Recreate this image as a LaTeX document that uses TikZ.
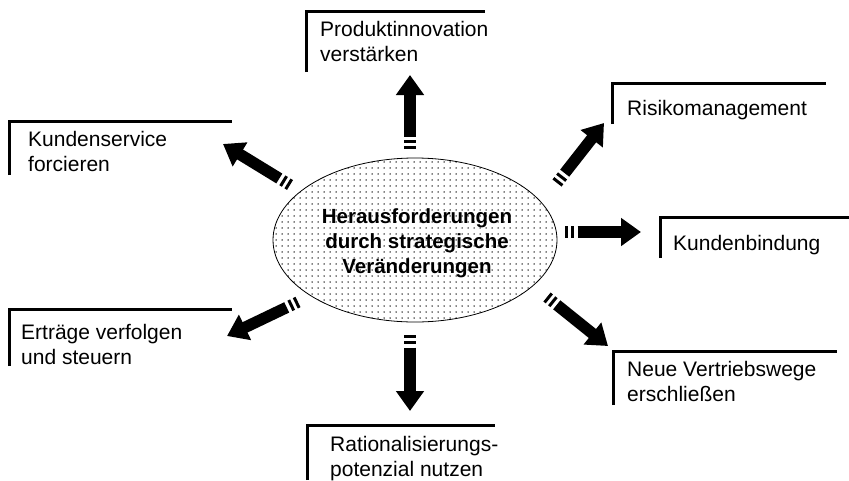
\documentclass[tikz,border=0pt]{standalone}
\usepackage{fontspec}
\setmainfont{Liberation Sans}
\usetikzlibrary{arrows.meta,patterns.meta,shapes.geometric}

\begin{document}
\begin{tikzpicture}[x=1pt,y=-1pt,
  % multi-line nodes sit on the baseline of their last line
  boxtext/.style={anchor=base west, inner sep=0pt, align=left,
    font=\fontsize{21}{24.5}\selectfont},
  frame/.style={line width=3pt},
  bigarrow/.style={line width=11.5pt,
    dash pattern=on 3pt off 3pt on 3pt off 3.5pt on 3000pt,
    -{Triangle[width=27pt,length=20pt]}},
]
\useasboundingbox (0,0) rectangle (849,480);

% central ellipse
\node[ellipse, draw, line width=0.8pt, minimum width=284pt, minimum height=164pt,
  inner sep=0pt, pattern={Dots[distance=6pt,radius=0.75pt]}] (hub) at (415,240) {};
\node[align=center, inner sep=0pt, font=\fontsize{20.5}{25}\selectfont\bfseries]
  (hubtext) at (417,243) {Herausforderungen\\durch strategische\\Veränderungen};

% open frames (left and top edge)
\coordinate (f1a) at (306,72);  \coordinate (f1b) at (485,11);
\coordinate (f2a) at (612,124); \coordinate (f2b) at (826,83);
\coordinate (f3a) at (660,258); \coordinate (f3b) at (849,217);
\coordinate (f4a) at (613,405); \coordinate (f4b) at (837,351);
\coordinate (f5a) at (307,480); \coordinate (f5b) at (495,425);
\coordinate (f6a) at (9,366);   \coordinate (f6b) at (232,309);
\coordinate (f7a) at (9,175);   \coordinate (f7b) at (232,121);
\foreach \f in {1,...,7} \draw[frame] (f\f a) |- (f\f b);

% frame texts
\node[boxtext] (t1) at (320,61)  {Produktinnovation\\verstärken};
\node[boxtext] (t2) at (627,115) {Risikomanagement};
\node[boxtext] (t3) at (673,250) {Kundenbindung};
\node[boxtext] (t4) at (627,401) {Neue Vertriebswege\\erschließen};
\node[boxtext] (t5) at (330,476) {Rationalisierungs-\\potenzial nutzen};
\node[boxtext] (t6) at (21,364)  {Erträge verfolgen\\und steuern};
\node[boxtext] (t7) at (28,171)  {Kundenservice\\forcieren};

% block arrows from the ellipse towards the frames
\coordinate (a1s) at (410,149); \coordinate (a1e) at (410,75);
\coordinate (a2s) at (557,183); \coordinate (a2e) at (604,123);
\coordinate (a3s) at (565,232); \coordinate (a3e) at (641,232);
\coordinate (a4s) at (547,297); \coordinate (a4e) at (608,346);
\coordinate (a5s) at (410,335); \coordinate (a5e) at (410,411);
\coordinate (a6s) at (298,302); \coordinate (a6e) at (227,336);
\coordinate (a7s) at (290,185); \coordinate (a7e) at (223,144);
\foreach \a in {1,...,7} \draw[bigarrow] (a\a s) -- (a\a e);
\end{tikzpicture}
\end{document}
